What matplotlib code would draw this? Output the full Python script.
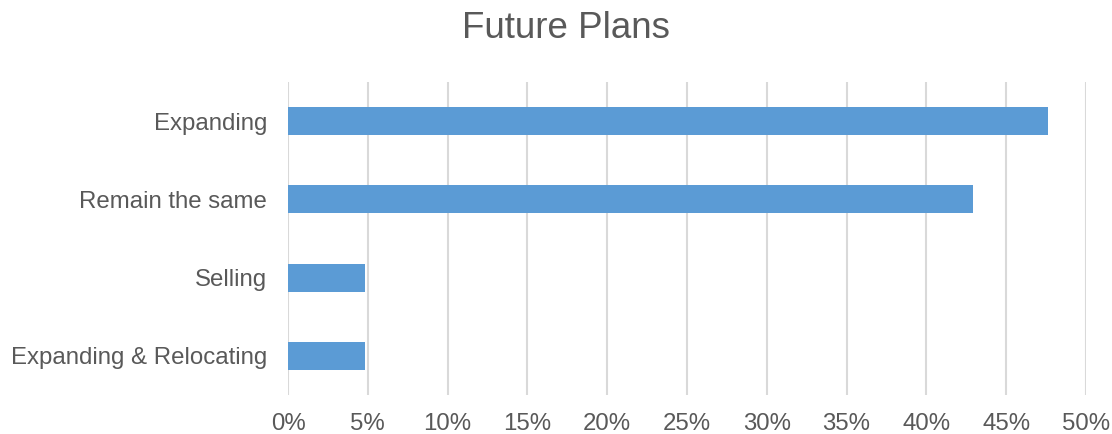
import matplotlib.pyplot as plt
from matplotlib.ticker import PercentFormatter

plans = ["Expanding", "Remain the same", "Selling", "Expanding & Relocating"]
shares = [47.6, 42.9, 4.8, 4.8]
xticks = [0, 5, 10, 15, 20, 25, 30, 35, 40, 45, 50]

plt.rcParams['font.family'] = ['Liberation Sans', 'DejaVu Sans']
grey = "#595959"

fig = plt.figure(figsize=(11.12, 4.34), dpi=100)
ax = fig.add_axes([288 / 1112, 1 - 395 / 434, (1086 - 288) / 1112, (395 - 82) / 434])

pos = list(range(len(plans)))
ax.barh(pos, shares, height=0.36, color="#5B9BD5", zorder=3)
ax.set_yticks(pos)
ax.set_yticklabels(plans)
ax.set_ylim(len(plans) - 0.5, -0.5)

ax.set_xlim(0, 50)
ax.set_xticks(xticks)
ax.xaxis.set_major_formatter(PercentFormatter(decimals=0))
ax.grid(axis="x", color="#D9D9D9", linewidth=1.5, zorder=0)

for s in ax.spines.values():
    s.set_visible(False)
ax.tick_params(axis="y", length=0, pad=15, labelsize=17.3, labelcolor=grey)
ax.tick_params(axis="x", length=0, pad=13, labelsize=17.3, labelcolor=grey)

fig.text(566 / 1112, 1 - 29 / 434, "Future Plans", ha="center", va="center",
         fontsize=26.5, color=grey)

plt.savefig("out.png", dpi=100)
